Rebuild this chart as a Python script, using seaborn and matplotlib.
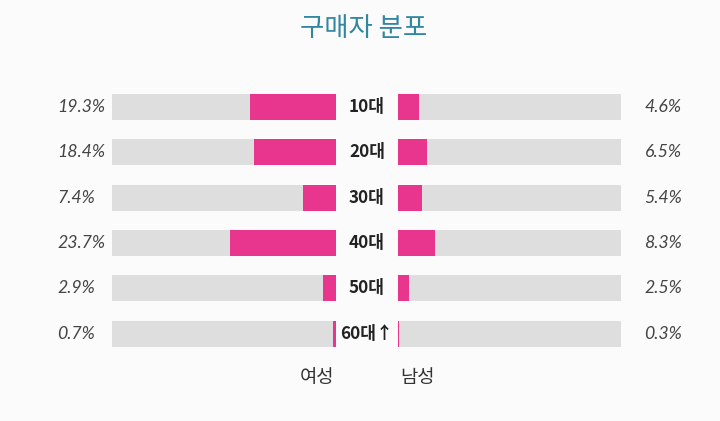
import matplotlib
matplotlib.use("Agg")
import matplotlib.pyplot as plt
import seaborn as sns
import pandas as pd

sns.set_theme(style="white")
plt.rcParams['font.family'] = ['Noto Sans CJK KR', 'DejaVu Sans']

ages = ["10대", "20대", "30대", "40대", "50대", "60대↑"]
female = [19.3, 18.4, 7.4, 23.7, 2.9, 0.7]
male = [4.6, 6.5, 5.4, 8.3, 2.5, 0.3]
scale_max = 50

PINK = "#e8368f"
GRAY = "#dedede"
BG = "#fbfbfb"

df = pd.DataFrame({"age": ages, "female": female, "male": male,
                   "full": [scale_max] * len(ages)})

fig = plt.figure(figsize=(7.2, 4.21), dpi=100, facecolor=BG)
axL = fig.add_axes([112/720, 1 - 356.5/421, 224/720, 272.4/421])
axR = fig.add_axes([398/720, 1 - 356.5/421, 223/720, 272.4/421])

for ax, col in ((axL, "female"), (axR, "male")):
    ax.set_facecolor(BG)
    sns.barplot(data=df, y="age", x="full", orient="h", color=GRAY,
                width=0.575, ax=ax, saturation=1, linewidth=0)
    sns.barplot(data=df, y="age", x=col, orient="h", color=PINK,
                width=0.575, ax=ax, saturation=1, linewidth=0)
    ax.set_xlim(0, scale_max)
    ax.set_ylim(len(ages) - 0.5, -0.5)
    ax.set_xticks([])
    ax.set_yticks([])
    ax.set_xlabel("")
    ax.set_ylabel("")
    for s in ax.spines.values():
        s.set_visible(False)
axL.invert_xaxis()

pct_font = ['Lato', 'DejaVu Sans']
k = 0.72  # px -> pt at 100 dpi
for i, (a, f, m) in enumerate(zip(ages, female, male)):
    axL.annotate(f"{f}%", xy=(0, i), xycoords=axL.get_yaxis_transform(),
                 xytext=(-(112 - 57) * k, 0), textcoords="offset points",
                 ha="left", va="center", fontsize=12.8, style="italic",
                 color="#444444", family=pct_font)
    axR.annotate(f"{m}%", xy=(1, i), xycoords=axR.get_yaxis_transform(),
                 xytext=((682 - 621) * k, 0), textcoords="offset points",
                 ha="right", va="center", fontsize=12.8, style="italic",
                 color="#444444", family=pct_font)
    axL.annotate(a, xy=(1, i), xycoords=axL.get_yaxis_transform(),
                 xytext=((367 - 336) * k, 0), textcoords="offset points",
                 ha="center", va="center", fontsize=12.3, fontweight="bold",
                 color="#222222")

fig.text(317/720, 1 - 378/421, "여성", ha="center", va="center",
         fontsize=13.5, color="#333333")
fig.text(417/720, 1 - 378/421, "남성", ha="center", va="center",
         fontsize=13.5, color="#333333")
fig.text(364/720, 1 - 29/421, "구매자 분포", ha="center", va="center",
         fontsize=19, color="#3287a0")

fig.savefig("out.png", dpi=100, facecolor=BG)
